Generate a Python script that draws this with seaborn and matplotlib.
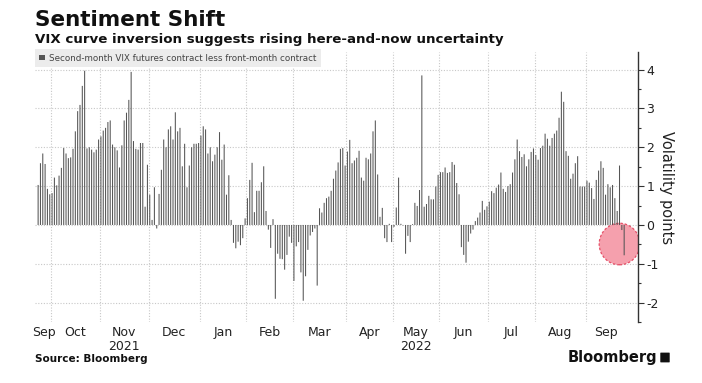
"""
VIX curve inversion: second-month VIX future less front-month, daily bars.
Bloomberg-style chart, values read off the reference picture.
"""
import numpy as np
import pandas as pd
import matplotlib
matplotlib.use("Agg")
import matplotlib.pyplot as plt
import seaborn as sns
from matplotlib.patches import Ellipse, Patch, FancyBboxPatch
from matplotlib.transforms import blended_transform_factory

# --- data: one list per calendar month (trading days) ---
MONTHS = ["Sep", "Oct", "Nov", "Dec", "Jan", "Feb", "Mar",
          "Apr", "May", "Jun", "Jul", "Aug", "Sep"]
YEARS = {2: "2021", 8: "2022"}  # month index -> year label underneath

sep21 = [1.03, 1.59, 1.84, 1.57, 0.93, 0.79]
oct21 = [0.82, 1.22, 1.02, 1.27, 1.47, 1.98, 1.84, 1.72, 1.74, 1.96, 2.41,
         2.93, 3.09, 3.58, 3.97, 1.97, 2.00, 1.94, 1.87, 1.94, 2.20]
nov21 = [2.28, 2.43, 2.50, 2.65, 2.69, 2.07, 2.00, 1.92, 1.48, 2.05, 2.69,
         2.89, 3.22, 3.94, 2.16, 1.96, 1.94, 2.11, 2.11, 0.47, 1.55]
dec21 = [0.78, 0.13, 0.97, -0.09, 0.80, 1.42, 2.20, 2.00, 2.46, 2.54, 2.20,
         2.90, 2.41, 2.50, 1.51, 2.09, 0.97, 1.53, 2.00, 2.09, 2.09, 2.11]
jan22 = [2.30, 2.54, 2.46, 1.84, 2.00, 1.64, 1.81, 2.00, 2.39, 1.68, 2.07,
         0.78, 1.28, 0.13, -0.46, -0.60, -0.43, -0.52, -0.34, 0.17]
feb22 = [0.69, 1.16, 1.60, 0.33, 0.88, 0.88, 1.10, 1.51, 0.36, -0.12, -0.59,
         0.15, -1.90, -0.74, -0.87, -0.88, -1.15, -0.77, -0.30, -0.46]
mar22 = [-1.44, -0.55, -0.44, -1.22, -1.95, -1.32, -0.64, -0.27, -0.18, -0.09,
         -1.56, 0.43, 0.32, 0.57, 0.69, 0.73, 0.88, 1.19, 1.40, 1.61, 1.96,
         1.98, 1.53]
apr22 = [1.89, 2.19, 1.59, 1.66, 1.73, 1.91, 1.22, 1.14, 1.73, 1.69, 1.84,
         2.41, 2.69, 1.30, 0.21, 0.44, -0.34, -0.44, 0.03, -0.44]
may22 = [-0.05, 0.45, 1.22, 0.03, -0.01, -0.74, -0.28, -0.44, 0.02, 0.57,
         0.49, 0.90, 3.85, 0.47, 0.54, 0.75, 0.66, 0.66, 0.99, 1.29]
jun22 = [1.36, 1.36, 1.48, 1.34, 1.36, 1.62, 1.55, 1.08, 0.79, -0.57, -0.77,
         -0.97, -0.43, -0.22, -0.12, 0.10, 0.19, 0.32, 0.62, 0.39, 0.48]
jul22 = [0.60, 0.87, 0.82, 0.96, 1.04, 1.35, 0.93, 0.85, 1.00, 1.05, 1.35,
         1.69, 2.20, 1.90, 1.75, 1.82, 1.51, 1.69, 1.88, 1.97]
aug22 = [1.80, 1.68, 1.98, 2.04, 2.35, 2.22, 2.04, 2.24, 2.35, 2.43, 2.76,
         3.43, 3.17, 1.90, 1.78, 1.19, 1.32, 1.59, 1.77, 0.99, 0.99, 0.99]
sep22 = [1.14, 1.09, 0.95, 0.67, 1.16, 1.40, 1.64, 1.47, 0.78, 1.05, 0.97,
         1.03, 0.69, 0.36, 1.53, -0.13, -0.78]

MONTH_VALUES = [sep21, oct21, nov21, dec21, jan22, feb22, mar22,
                apr22, may22, jun22, jul22, aug22, sep22]

BAR = "#555555"
GRID = "#c8c8c8"
TXT = "#222222"


def main() -> None:
    values = np.concatenate(MONTH_VALUES)
    df = pd.DataFrame({"day": np.arange(len(values)), "spread": values})
    n = len(df)

    lengths = np.array([len(m) for m in MONTH_VALUES])
    starts = np.concatenate([[0], np.cumsum(lengths)[:-1]])
    bounds = starts[1:] - 0.5
    mids = starts + (lengths - 1) / 2

    sns.set_style("white")
    plt.rcParams["font.family"] = ["DejaVu Sans"]
    plt.rcParams["axes.unicode_minus"] = False

    fig = plt.figure(figsize=(7.02, 3.83), dpi=100)
    ax = fig.add_axes([0.050, 0.159, 0.859, 0.705])

    # highlight circle round the latest inversion (behind the bars)
    circ = Ellipse((n - 3, -0.49), width=17.5, height=1.07, facecolor="#f4909f",
                   edgecolor="#e23a55", linestyle=(0, (2, 1.5)), lw=0.9,
                   alpha=0.85, zorder=1)
    ax.add_patch(circ)

    sns.barplot(data=df, x="day", y="spread", color=BAR, saturation=1,
                width=0.45, ax=ax, zorder=3)
    # thin bars: keep them from snapping away to zero pixels
    for p in ax.patches:
        if p is not circ:
            p.set_snap(False)
            p.set_linewidth(0)

    ax.set_xlim(-1.3, n + 5)
    ax.set_ylim(-2.5, 4.45)

    # dotted grid: integer levels and month boundaries
    for yv in range(-2, 5):
        ax.axhline(yv, color=GRID, lw=0.8, ls=(0, (1, 1.5)), zorder=0)
    for xb in bounds:
        ax.axvline(xb, color=GRID, lw=0.8, ls=(0, (1, 1.5)), zorder=0)

    for side in ["left", "top", "bottom"]:
        ax.spines[side].set_visible(False)
    ax.spines["right"].set_color("#333333")
    ax.spines["right"].set_linewidth(1.0)

    ax.yaxis.tick_right()
    ax.yaxis.set_label_position("right")
    ax.set_yticks(range(-2, 5))
    ax.set_yticks(np.arange(-2.5, 4.5, 0.5), minor=True)
    ax.tick_params(axis="y", which="major", length=4, width=0.8, color="#333333",
                   labelsize=9, labelcolor=TXT, pad=2)
    ax.tick_params(axis="y", which="minor", length=2, width=0.8, color="#333333")
    ax.set_ylabel("Volatility points", rotation=270, fontsize=10.5,
                  color=TXT, labelpad=11)

    ax.set_xticks(mids)
    ax.set_xticklabels(MONTHS)
    ax.set_xticks(bounds, minor=True)
    ax.tick_params(axis="x", which="major", length=0, labelsize=9,
                   labelcolor=TXT, pad=3)
    ax.tick_params(axis="x", which="minor", length=3, color=GRID)
    ax.set_xlabel("")

    tr = blended_transform_factory(ax.transData, ax.transAxes)
    for idx, yr in YEARS.items():
        ax.text(mids[idx], -0.067, yr, transform=tr, ha="center", va="top",
                fontsize=9, color=TXT)

    # legend box
    handle = Patch(facecolor=BAR, edgecolor="none",
                   label="Second-month VIX futures contract less front-month contract")
    leg = ax.legend(handles=[handle], loc="upper left", bbox_to_anchor=(0.0, 1.01),
                    frameon=True, fancybox=False, framealpha=1, fontsize=6.3,
                    handlelength=0.6, handleheight=0.6, handletextpad=0.5,
                    borderpad=0.5, borderaxespad=0)
    leg.get_frame().set_facecolor("#ececec")
    leg.get_frame().set_edgecolor("none")
    for t in leg.get_texts():
        t.set_color("#444444")

    # titles and footer
    fig.text(35 / 702, 1 - 26 / 383, "Sentiment Shift", fontsize=15.5,
             fontweight="bold", color="#111111", va="baseline", ha="left")
    fig.text(35 / 702, 1 - 43 / 383,
             "VIX curve inversion suggests rising here-and-now uncertainty",
             fontsize=9.6, fontweight="bold", color="#111111", va="baseline",
             ha="left")
    fig.text(35 / 702, 1 - 362 / 383, "Source: Bloomberg", fontsize=7.5,
             fontweight="bold", color="#111111", va="baseline", ha="left")
    fig.text(657 / 702, 1 - 362 / 383, "Bloomberg", fontsize=10.5,
             fontweight="bold", color="#111111", va="baseline", ha="right")
    fig.patches.append(FancyBboxPatch((661 / 702, 1 - 362 / 383), 8 / 702, 9 / 383,
                                      boxstyle="round,pad=0.001",
                                      transform=fig.transFigure,
                                      facecolor="#111111", edgecolor="none"))

    fig.savefig("out.png", dpi=100)
    plt.close(fig)


if __name__ == "__main__":
    main()
